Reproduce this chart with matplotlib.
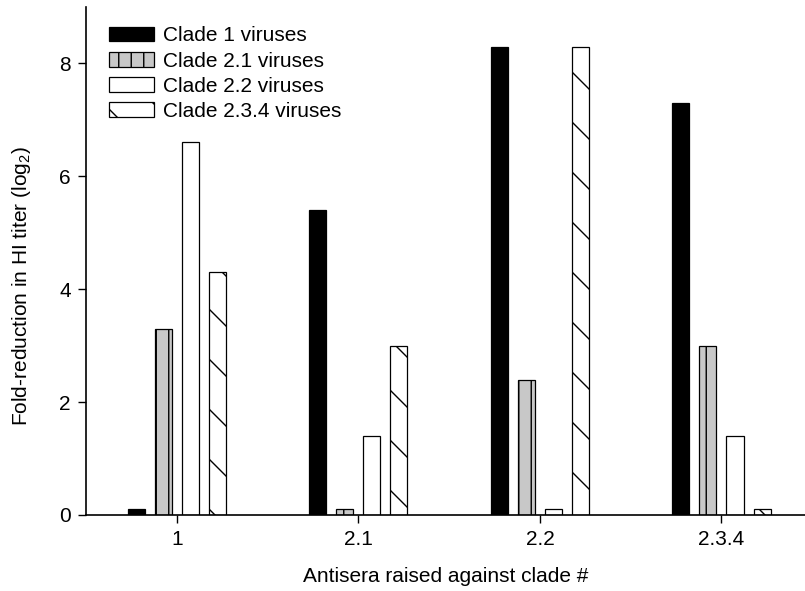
import numpy as np
import matplotlib
matplotlib.use("Agg")
import matplotlib.pyplot as plt
from matplotlib.backend_bases import GraphicsContextBase

# sparser hatching than matplotlib's default density of 6
_orig_hatch_path = GraphicsContextBase.get_hatch_path
GraphicsContextBase.get_hatch_path = lambda self, density=4.0: _orig_hatch_path(self, density)

antisera = ["1", "2.1", "2.2", "2.3.4"]
clade1 = [0.1, 5.4, 8.3, 7.3]
clade2_1 = [3.3, 0.1, 2.4, 3.0]
clade2_2 = [6.6, 1.4, 0.1, 1.4]
clade2_3_4 = [4.3, 3.0, 8.3, 0.1]
series_names = ["Clade 1 viruses", "Clade 2.1 viruses", "Clade 2.2 viruses", "Clade 2.3.4 viruses"]

plt.rcParams["font.family"] = ["Liberation Sans", "DejaVu Sans"]
plt.rcParams["font.size"] = 15
plt.rcParams["hatch.linewidth"] = 1.0

fig = plt.figure(figsize=(8.05, 5.91), dpi=100)
ax = fig.add_axes([86 / 805, 76 / 591, 1 - 86 / 805, 508 / 591])

x = np.arange(len(antisera))
pitch = 0.149
width = 0.094
styles = [
    dict(color="black", edgecolor="black", hatch=None),
    dict(color="#c8c8c8", edgecolor="black", hatch="||"),
    dict(color="white", edgecolor="black", hatch=None),
    dict(color="white", edgecolor="black", hatch="\\"),
]
for i, (vals, name, st) in enumerate(zip([clade1, clade2_1, clade2_2, clade2_3_4], series_names, styles)):
    ax.bar(x + (i - 1.5) * pitch, vals, width, label=name, linewidth=0.9, **st)

ax.set_xlim(-0.5, 3.46)
ax.set_ylim(0, 9)
ax.set_xticks(x)
ax.set_xticklabels(antisera)
ax.set_yticks([0, 2, 4, 6, 8])
ax.spines["top"].set_visible(False)
ax.spines["right"].set_visible(False)
ax.spines["left"].set_linewidth(1.2)
ax.spines["bottom"].set_linewidth(1.2)
ax.tick_params(length=6, width=1.0, pad=5, labelsize=15)

ax.set_xlabel("Antisera raised against clade #", fontsize=15, labelpad=13)
ax.set_ylabel(r"Fold-reduction in HI titer (log$_\mathregular{2}$)", fontsize=15, labelpad=19)
ax.yaxis.label.set_y(0.45)

ax.legend(loc="upper left", bbox_to_anchor=(0.032, 0.962), frameon=False, fontsize=15,
          handlelength=2.15, handleheight=0.7, handletextpad=0.45, labelspacing=0.3,
          borderpad=0, borderaxespad=0)

fig.savefig("out.png", dpi=100)
